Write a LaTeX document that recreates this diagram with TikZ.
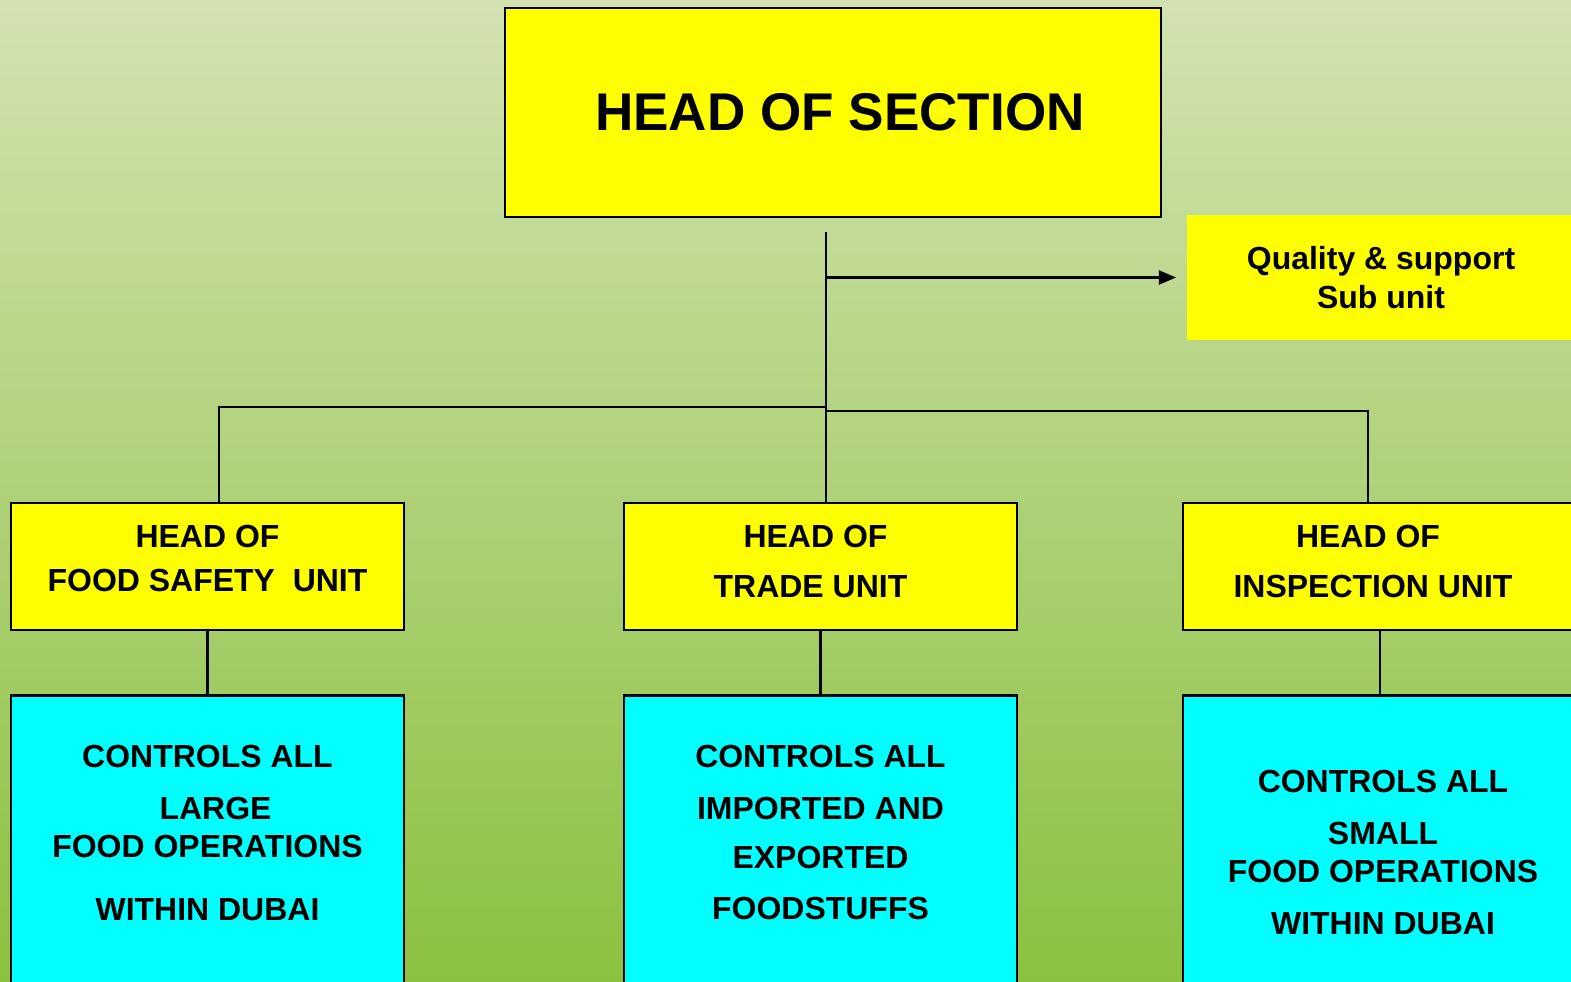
\documentclass[tikz,border=0pt]{standalone}
\usepackage{fontspec}
\setmainfont{Liberation Sans}
\usetikzlibrary{arrows.meta}
\definecolor{bgtop}{HTML}{D3E2B1}
\definecolor{bgbot}{HTML}{8BC140}
\definecolor{boxyel}{RGB}{255,255,0}
\definecolor{boxcyan}{RGB}{0,255,255}
\tikzset{hdb/.style={draw, fill=boxyel, line width=0.8pt, minimum width=6.56cm, minimum height=2.09cm,
                     font=\bfseries\fontsize{15.1}{18}\selectfont},
         qsb/.style={fill=boxyel, minimum width=3.88cm, minimum height=1.25cm, align=center},
         unb/.style={draw, fill=boxyel, line width=0.75pt, minimum height=1.27cm, align=center},
         ctb/.style={draw, fill=boxcyan, line width=0.75pt, anchor=north, align=center}}
\newcommand\padbelow[1]{\rule[-#1]{0pt}{#1}}

\begin{document}
\begin{tikzpicture}[line width=0.6pt, font=\bfseries\fontsize{9.1}{11}\selectfont]

  % ---------- page and background ----------
  \useasboundingbox (0,0) rectangle (15.71,9.81);
  \clip (0,0) rectangle (15.71,9.81);
  \shade[top color=bgtop, bottom color=bgbot] (0,0) rectangle (15.71,9.81);

  % ---------- top of the section ----------
  \node[hdb] (head) at (8.33,8.685) {\hspace*{0.14cm}HEAD OF SECTION};
  \node[qsb] (qual) at (13.81,7.035) {Quality \& support\\Sub unit};

  % ---------- the three unit heads ----------
  \node[unb, minimum width=3.93cm] (fsu) at (2.075,4.145) {HEAD OF\\[0.05cm]FOOD SAFETY~ UNIT\padbelow{0.16cm}};
  \node[unb, minimum width=3.93cm] (tru) at (8.205,4.145) {HEAD OF\hspace*{0.1cm}\\[0.12cm]TRADE UNIT\hspace*{0.2cm}\padbelow{0.1cm}};
  \node[unb, minimum width=4.0cm]  (isu) at (13.83,4.145) {HEAD OF\hspace*{0.3cm}\\[0.12cm]INSPECTION UNIT\hspace*{0.2cm}\padbelow{0.1cm}};

  % ---------- what each unit controls ----------
  \node[ctb, minimum width=3.93cm, inner ysep=0.5cm] (fsuc) at (2.075,2.87)
        {CONTROLS ALL\\[0.13cm]\hspace*{0.16cm}LARGE\\FOOD OPERATIONS\\[0.24cm]WITHIN DUBAI\padbelow{3cm}};
  \node[ctb, minimum width=3.93cm, inner ysep=0.5cm] (truc) at (8.205,2.87)
        {CONTROLS ALL\\[0.13cm]IMPORTED AND\\[0.11cm]EXPORTED\\[0.12cm]FOODSTUFFS\padbelow{3cm}};
  \node[ctb, minimum width=4.0cm, inner ysep=0.75cm] (isuc) at (13.83,2.87)
        {CONTROLS ALL\\[0.13cm]SMALL\\FOOD OPERATIONS\\[0.13cm]WITHIN DUBAI\padbelow{3cm}};

  % ---------- connectors ----------
  \coordinate (trunk) at (8.26,7.49);
  \coordinate (lj) at (8.26,5.74);
  \coordinate (rj) at (8.26,5.70);
  \draw (trunk) -- (trunk |- tru.north);
  \draw[-{Triangle[length=0.17cm,width=0.14cm]}] (trunk |- qual.west) -- ([xshift=-0.1cm]qual.west);
  \draw (lj) -| ([xshift=0.115cm]fsu.north);
  \draw (rj) -| ([xshift=-0.15cm]isu.north);
  \draw (fsu.south) -- (fsuc.north);
  \draw (tru.south) -- (truc.north);
  \draw ([xshift=-0.03cm]isu.south) -- ([xshift=-0.03cm]isuc.north);

\end{tikzpicture}
\end{document}
